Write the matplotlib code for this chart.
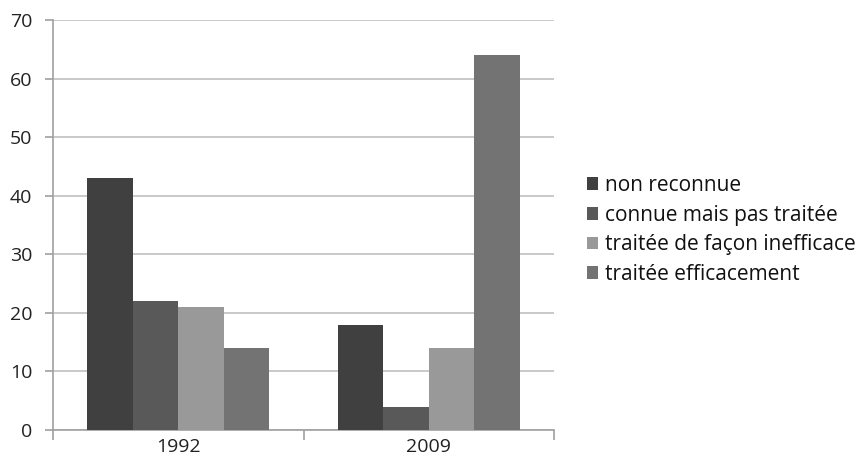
import matplotlib.pyplot as plt
import numpy as np

years = ['1992', '2009']
labels = ['non reconnue', 'connue mais pas traitée',
          'traitée de façon inefficace', 'traitée efficacement']
values = [
    [43, 18],
    [22, 4],
    [21, 14],
    [14, 64],
]
colors = ['#404040', '#595959', '#999999', '#737373']

plt.rcParams['font.family'] = ['Open Sans', 'DejaVu Sans']

fig = plt.figure(figsize=(8.56, 4.69), dpi=100)
ax = fig.add_axes([53 / 856, 1 - 430 / 469, (554 - 53) / 856, 410 / 469])

x = np.arange(len(years))
w = 0.1813
for i, (lab, vals, c) in enumerate(zip(labels, values, colors)):
    ax.bar(x + (i - 1.5) * w, vals, w, color=c, label=lab, zorder=3)

ax.set_xlim(-0.5, 1.5)
ax.set_ylim(0, 70)
ax.set_yticks(range(0, 71, 10))
ax.yaxis.grid(True, color='#c0c0c0', linewidth=1.2, zorder=0)

# category labels in the middle, tick marks on the boundaries
ax.set_xticks([-0.5, 0.5, 1.5])
ax.set_xticklabels([])
ax.set_xticks(x, minor=True)
ax.set_xticklabels(years, minor=True)
ax.tick_params(axis='x', which='minor', length=0, pad=6, labelsize=14, labelcolor='#222222')
ax.tick_params(axis='x', which='major', length=7, color='#a0a0a0', width=1.2)
ax.tick_params(axis='y', length=6, color='#a0a0a0', width=1.2, labelsize=14,
               labelcolor='#222222', pad=9)

for s in ['top', 'right']:
    ax.spines[s].set_visible(False)
for s in ['left', 'bottom']:
    ax.spines[s].set_color('#a0a0a0')
    ax.spines[s].set_linewidth(1.2)

leg = fig.legend(loc='center left', bbox_to_anchor=(568 / 856, 1 - 230 / 469),
                 frameon=False, fontsize=15, handlelength=0.55, handleheight=0.55,
                 handletextpad=0.32, labelspacing=0.42)
for t in leg.get_texts():
    t.set_color('#111111')

fig.savefig('out.png', dpi=100)
